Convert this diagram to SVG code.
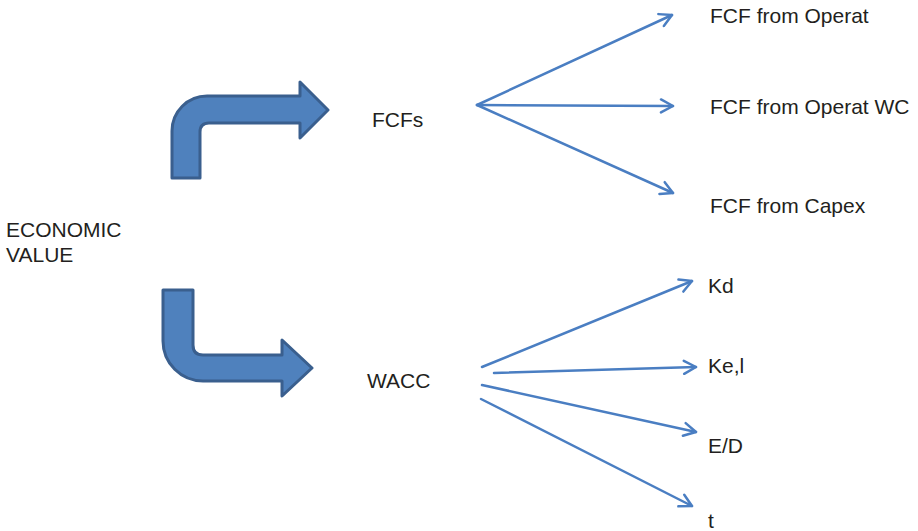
<svg xmlns="http://www.w3.org/2000/svg" width="918" height="531" viewBox="0 0 918 531">
  <style>
    .lbl { font-family: "Liberation Sans", Arial, sans-serif; font-size: 21px; fill: #231f20; }
    .bent { fill: #4f81bd; stroke: #3a5f8e; stroke-width: 3; stroke-linejoin: round; }
    .ray { fill: none; stroke: #4a7ec2; stroke-width: 2.5; stroke-linecap: round; marker-end: url(#chev); }
  </style>
  <defs>
    <marker id="chev" viewBox="0 0 16 16" refX="14" refY="8" markerWidth="16" markerHeight="16" markerUnits="userSpaceOnUse" orient="auto">
      <path d="M2,1.5 L14,8 L2,14.5" fill="none" stroke="#4a7ec2" stroke-width="2.5" stroke-linecap="round" stroke-linejoin="round"/>
    </marker>
  </defs>

  <rect width="918" height="531" fill="#ffffff"/>

  <g id="economic-value">
    <text class="lbl" x="6" y="237">ECONOMIC</text>
    <text class="lbl" x="6" y="262">VALUE</text>
  </g>

  <!-- bent block arrows out of ECONOMIC VALUE -->
  <g id="bent-up">
    <path class="bent" d="M200,178 L200,132 Q200,123 209,123 L300,123 L300,138 L328,110 L300,82 L300,96 L207,96 A35,35 0 0 0 172,131 L172,178 Z"/>
  </g>
  <g id="bent-down">
    <path class="bent" d="M163,290 L193,290 L193,345 Q193,355 203,355 L282,355 L282,340 L312,368 L282,396 L282,381 L203,381 A40,40 0 0 1 163,341 Z"/>
  </g>

  <g id="fcfs"><text class="lbl" x="372" y="127">FCFs</text></g>
  <g id="wacc"><text class="lbl" x="367" y="388">WACC</text></g>

  <g id="fcf-operat"><text class="lbl" x="710" y="23">FCF from Operat</text></g>
  <g id="fcf-operat-wc"><text class="lbl" x="710" y="114">FCF from Operat WC</text></g>
  <g id="fcf-capex"><text class="lbl" x="710" y="213">FCF from Capex</text></g>

  <g id="kd"><text class="lbl" x="708" y="293">Kd</text></g>
  <g id="kel"><text class="lbl" x="708" y="373">Ke,l</text></g>
  <g id="ed"><text class="lbl" x="708" y="453">E/D</text></g>
  <g id="t"><text class="lbl" x="708" y="528">t</text></g>

  <g id="connectors">
    <line class="ray" x1="477" y1="105" x2="672" y2="15"/>
    <line class="ray" x1="477" y1="105" x2="673" y2="106"/>
    <line class="ray" x1="477" y1="105" x2="673" y2="193"/>
    <line class="ray" x1="482" y1="367" x2="692" y2="281"/>
    <line class="ray" x1="494" y1="373" x2="696" y2="367"/>
    <line class="ray" x1="482" y1="385" x2="696" y2="432"/>
    <line class="ray" x1="481" y1="399" x2="692" y2="506"/>
  </g>
</svg>
